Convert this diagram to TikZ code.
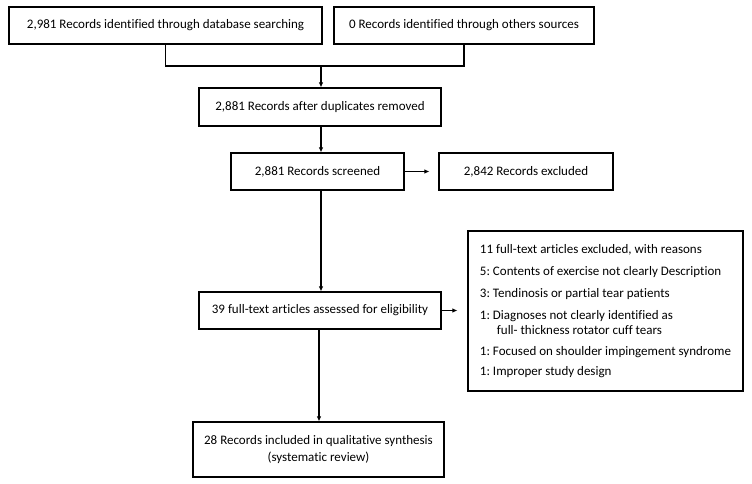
\documentclass[tikz,border=0pt]{standalone}
\usepackage{fontspec}
\setmainfont[Ligatures=NoCommon]{Carlito}
\usetikzlibrary{arrows.meta}
\begin{document}
\begin{tikzpicture}[x=1pt,y=-1pt,
  box/.style={draw=black,line width=1.1pt,inner sep=0pt,align=center,font=\fontsize{13}{17}\selectfont},
  conn/.style={line width=1.1pt},
  arr/.style={line width=1.1pt,-{Latex[length=5pt,width=4.5pt]}}]
\useasboundingbox (0,0) rectangle (752,483);
\node[box,minimum width=313pt,minimum height=37pt] (b1) at (165.5,25.5) {2,981 Records identified through database searching};
\node[box,minimum width=260pt,minimum height=37pt] (b2) at (464,25.5) {0 Records identified through others sources};
\node[box,minimum width=242pt,minimum height=38pt] (b3) at (320,107) {2,881 Records after duplicates removed};
\node[box,minimum width=173pt,minimum height=37pt] (b4) at (317.5,171.5) {2,881 Records screened};
\node[box,minimum width=174pt,minimum height=37pt] (b5) at (526,171.5) {2,842 Records excluded};
\node[box,minimum width=242pt,minimum height=37pt] (b6) at (320,310.5) {39 full-text articles assessed for eligibility};
\node[box,minimum width=251pt,minimum height=55pt] (b8) at (318.5,449.5) {28 Records included in qualitative synthesis\\(systematic review)};
\node[box,minimum width=275pt,minimum height=160pt,align=left,
      font=\frenchspacing\fontsize{13}{15}\selectfont] (b7) at (605.5,311)
 {11 full-text articles excluded, with reasons\\[7pt]
  5: Contents of exercise not clearly Description\\[7pt]
  3: Tendinosis or partial tear patients\\[7pt]
  1: Diagnoses not clearly identified as\\
  \hspace*{17pt}full- thickness rotator cuff tears\\[6pt]
  1: Focused on shoulder impingement syndrome\\[5pt]
  1: Improper study design};
\coordinate (j) at (321,66);
\draw[conn] (b1.south) |- (j);
\draw[conn] (b2.south) |- (j);
\draw[arr] (j) -- (j |- b3.north);
\draw[arr] (b3.south -| j) -- (j |- b4.north);
\draw[arr] (b4.east) -- ([xshift=-9pt]b5.west);
\draw[arr] (b4.south -| j) -- (j |- b6.north);
\draw[arr] (b6.east) -- ([xshift=-10pt]b7.west |- b6.east);
\draw[arr] (b6.south -| 319,0) -- (319,0 |- b8.north);
\end{tikzpicture}
\end{document}
